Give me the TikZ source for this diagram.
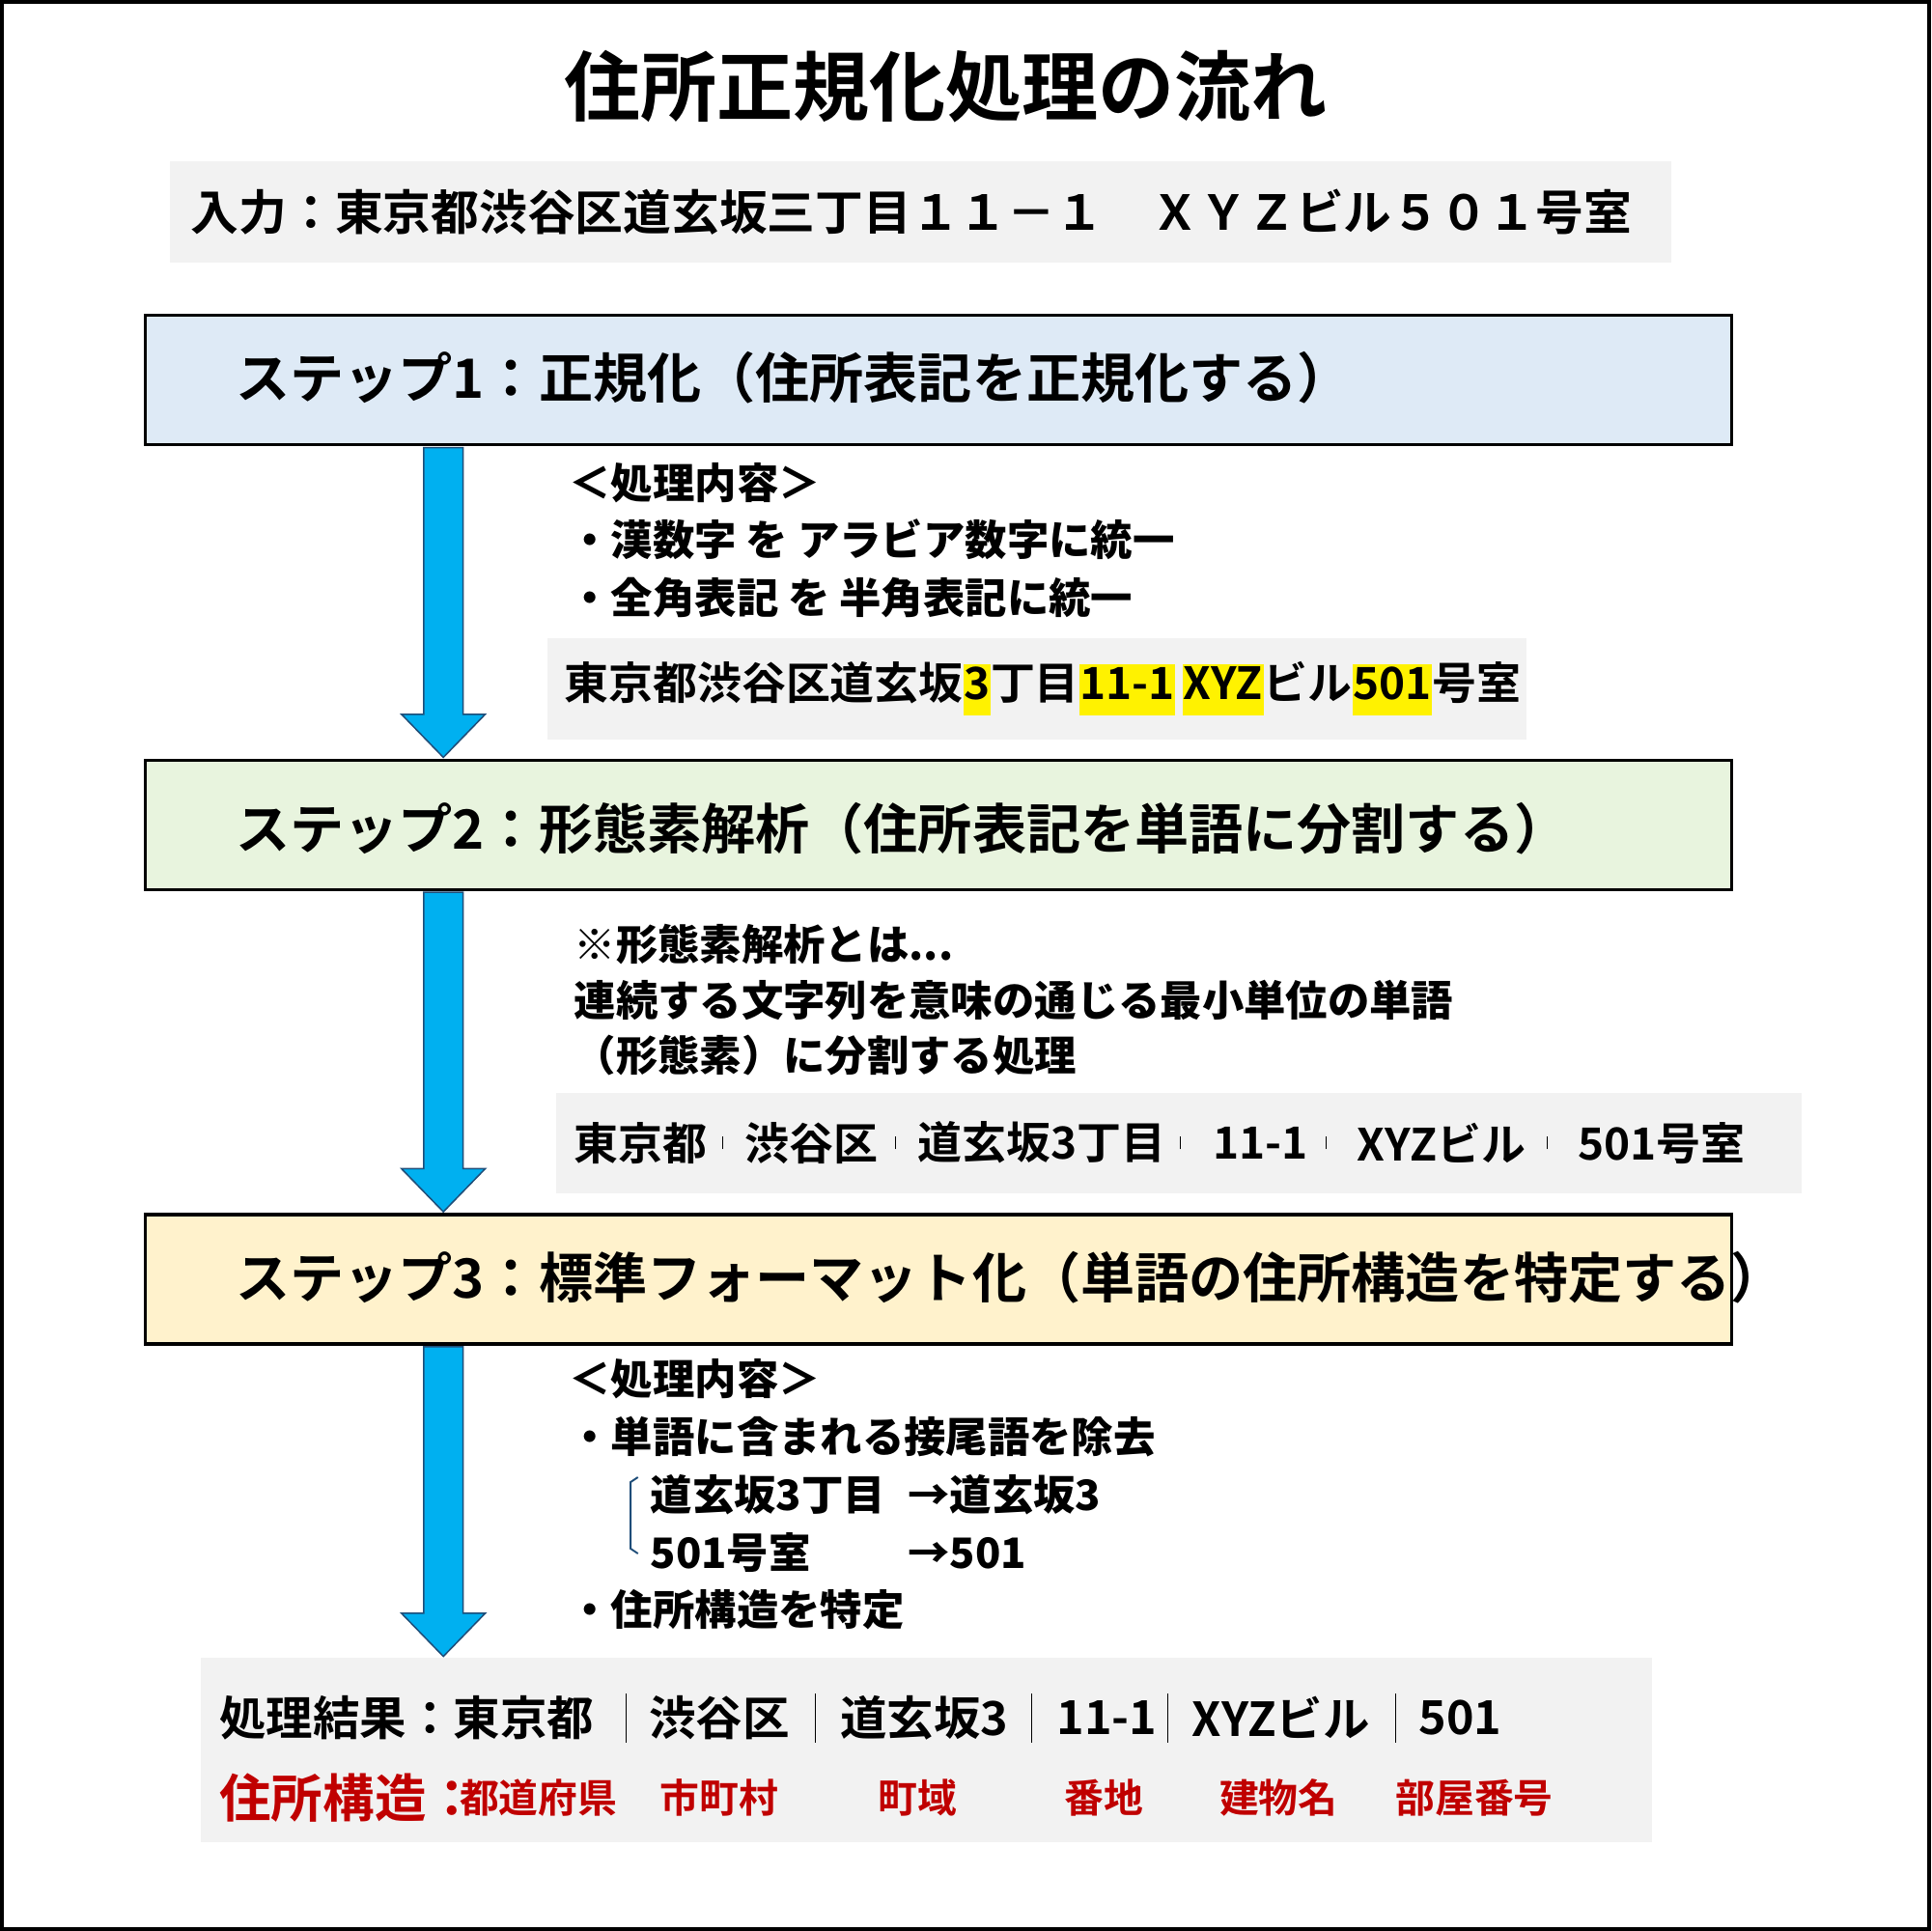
\documentclass[tikz,border=0pt]{standalone}
\usepackage{fontspec}
\setmainfont{Noto Sans CJK JP}
\newfontfamily\jpb{Noto Sans CJK JP Bold}
\usetikzlibrary{calc}
\definecolor{arrowblue}{HTML}{00B0F0}
\definecolor{arrowedge}{HTML}{1F4E79}
\definecolor{graybg}{HTML}{F2F2F2}
\definecolor{stepone}{HTML}{DEEAF6}
\definecolor{steptwo}{HTML}{E8F4DE}
\definecolor{stepthree}{HTML}{FFF2CC}
\definecolor{labelred}{HTML}{C00000}
\newcommand\hl[1]{{\setlength\fboxsep{0.5pt}\colorbox{yellow}{\strut #1}}}
\newcommand\vsep{\rule[-0.12em]{0.7pt}{1.05em}}

\begin{document}
\begin{tikzpicture}[
    x=1pt, y=-1pt,
    stepbox/.style={draw=black, line width=2.5pt, minimum width=1288pt,
        minimum height=105pt, anchor=north west, inner sep=0pt},
    steptext/.style={anchor=west, font=\jpb\fontsize{44}{50}\selectfont},
    graybox/.style={fill=graybg, anchor=north west, inner sep=0pt},
    body/.style={anchor=west, inner sep=0pt, font=\fontsize{34}{40}\selectfont\bfseries},
    item/.style={anchor=west, inner sep=0pt, font=\jpb\fontsize{36}{40}\selectfont},
    lab/.style={anchor=west, inner sep=0pt, text=labelred, font=\jpb\fontsize{32}{36}\selectfont},
    bigarrow/.style={fill=arrowblue, draw=arrowedge, line width=1.2pt}
]
    \draw[line width=3pt, fill=white] (1.5,1.5) rectangle (1566.5,1566.5);
    \useasboundingbox (0,0) rectangle (1568,1568);

    % title and input
    \node (title) at (768,70) {\jpb\fontsize{62}{70}\selectfont 住所正規化処理の流れ};
    \node[graybox, minimum width=1219pt, minimum height=82pt] (input) at (138,131) {};
    \node[anchor=west, inner sep=0pt, font=\jpb\fontsize{39}{44}\selectfont] (inputtext) at (155,172)
        {入力：東京都渋谷区道玄坂三丁目１１－１　ＸＹＺビル５０１号室};

    % steps
    \node[stepbox, fill=stepone] (s1) at (117,255) {};
    \node[steptext] (s1text) at (188,307) {ステップ1：正規化（住所表記を正規化する）};
    \node[stepbox, fill=steptwo] (s2) at (117,616) {};
    \node[steptext] (s2text) at (188,673) {ステップ2：形態素解析（住所表記を単語に分割する）};
    \node[stepbox, fill=stepthree] (s3) at (117,985) {};
    \node[steptext] (s3text) at (188,1037) {ステップ3：標準フォーマット化（単語の住所構造を特定する）};

    % step 1 notes
    \node[body] (n1a) at (462,392) {＜処理内容＞};
    \node[body] (n1b) at (462,438) {・漢数字 を アラビア数字に統一};
    \node[body] (n1c) at (462,485) {・全角表記 を 半角表記に統一};
    \node[graybox, minimum width=795pt, minimum height=82pt] (r1) at (444,518) {};
    \node[item] (r1text) at (458,559)
        {東京都渋谷区道玄坂\hl{3}丁目\hl{11-1}\,\hl{XYZ}ビル\hl{501}号室};

    % step 2 notes
    \node[body] (n2a) at (466,767) {※形態素解析とは...};
    \node[body] (n2b) at (466,812) {連続する文字列を意味の通じる最小単位の単語};
    \node[body] (n2c) at (466,857) {（形態素）に分割する処理};
    \node[graybox, minimum width=1012pt, minimum height=82pt] (r2) at (451,887) {};
    \foreach \x/\t [count=\i] in {466/東京都, 605/渋谷区, 745/道玄坂3丁目, 985/11-1, 1102/XYZビル, 1281/501号室}
        \node[item] (w\i) at (\x,928) {\t};
    \foreach \x [count=\i] in {587,727,958,1077,1256}
        \node[inner sep=0pt] (bar\i) at (\x,928) {\vsep};

    % step 3 notes
    \node[body] (n3a) at (462,1120) {＜処理内容＞};
    \node[body] (n3b) at (462,1167) {・単語に含まれる接尾語を除去};
    \node[body] (n3c) at (528,1214) {道玄坂3丁目};
    \node[body] (n3d) at (737,1214) {→道玄坂3};
    \node[body] (n3e) at (528,1261) {501号室};
    \node[body] (n3f) at (737,1261) {→501};
    \node[body] (n3g) at (462,1307) {・住所構造を特定};
    \draw[arrowedge, line width=1.5pt] (n3c.north west) ++(-10,2) -- ++(-6,4) -- ++(0,54) -- ++(6,4);

    % result
    \node[graybox, minimum width=1178pt, minimum height=150pt] (res) at (163,1346) {};
    \foreach \x/\t [count=\i] in {178/処理結果：東京都, 527/渋谷区, 682/道玄坂3, 858/11-1, 968/XYZビル, 1152/501}
        \node[item, font=\jpb\fontsize{38}{42}\selectfont] (o\i) at (\x,1395) {\t};
    \foreach \x [count=\i] in {508,662,838,948,1133}
        \node[inner sep=0pt, font=\fontsize{38}{42}\selectfont] (obar\i) at (\x,1395) {\vsep};
    \node[lab, font=\jpb\fontsize{42}{46}\selectfont] (struct) at (178,1460) {住所構造：};
    \foreach \x/\t [count=\i] in {373/都道府県, 536/市町村, 713/町域, 864/番地, 990/建物名, 1133/部屋番号}
        \node[lab] (l\i) at (\x,1460) {\t};

    % arrows
    \coordinate (ax) at (360,0);
    \foreach \a/\b in {s1/s2, s2/s3, s3/res} {
        \path (\a.south -| ax) coordinate (top) (\b.north -| ax) coordinate (tip);
        \draw[bigarrow] ($(top)+(-16,1)$) -- ($(tip)+(-16,-36)$) -- ($(tip)+(-34,-36)$)
            -- ($(tip)+(0,-1)$) -- ($(tip)+(34,-36)$) -- ($(tip)+(16,-36)$)
            -- ($(top)+(16,1)$) -- cycle;
    }
\end{tikzpicture}
\end{document}
